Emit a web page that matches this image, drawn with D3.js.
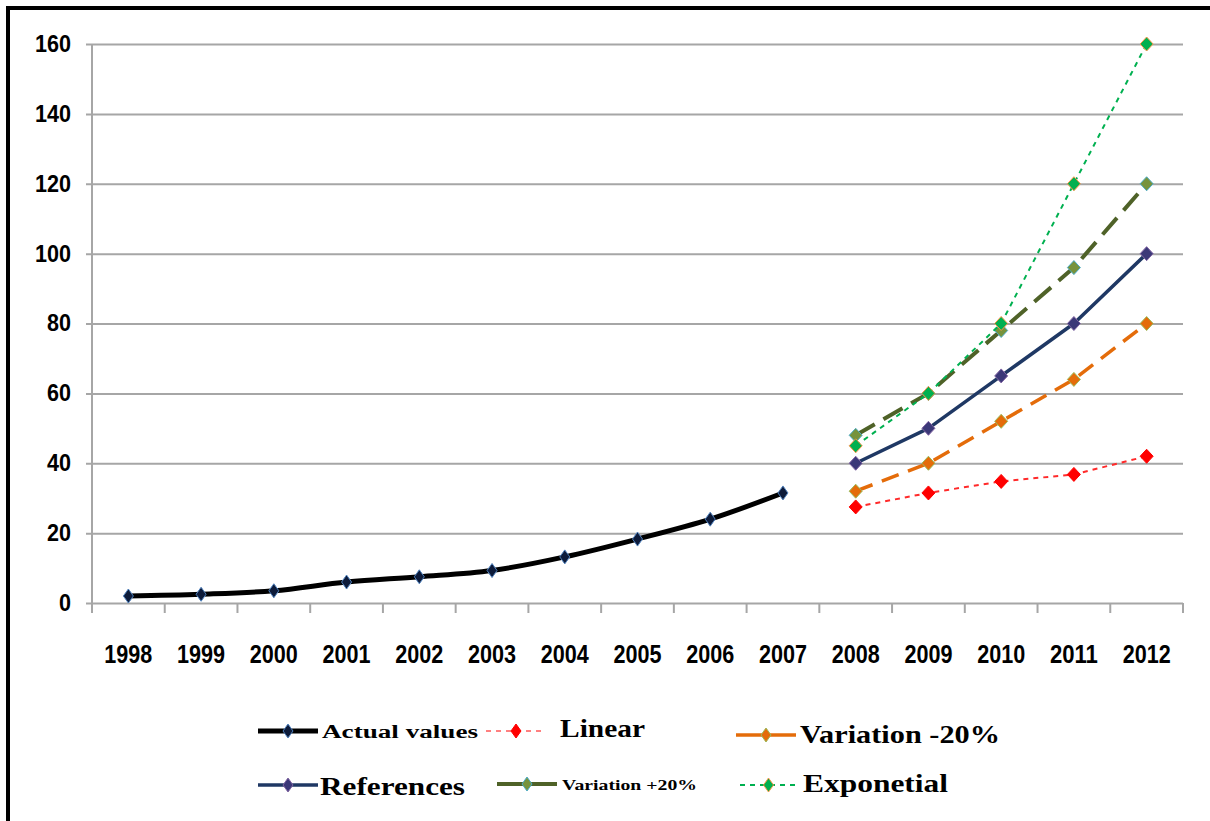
<!DOCTYPE html>
<html><head><meta charset="utf-8">
<script src="https://cdn.jsdelivr.net/npm/d3@7"></script>
<style>html,body{margin:0;padding:0;background:#fff;}svg{display:block;}</style>
</head><body>
<svg id="chart" width="1210" height="821"></svg>
<script>
const years = ["1998","1999","2000","2001","2002","2003","2004","2005","2006","2007","2008","2009","2010","2011","2012"];
const yTicks = [0,20,40,60,80,100,120,140,160];
const actualValues = [2,2.5,3.5,6,7.5,9.3,13.2,18.3,24,31.5,null,null,null,null,null];
const linearValues = [null,null,null,null,null,null,null,null,null,null,27.5,31.5,34.8,36.8,42];
const varMinus20 = [null,null,null,null,null,null,null,null,null,null,32,40,52,64,80];
const references = [null,null,null,null,null,null,null,null,null,null,40,50,65,80,100];
const varPlus20 = [null,null,null,null,null,null,null,null,null,null,48,60,78,96,120];
const exponential = [null,null,null,null,null,null,null,null,null,null,45,60,80,120,160];

const seriesNames = ["Actual values","Linear","Variation -20%","References","Variation +20%","Exponetial"];
const seriesData = [actualValues, linearValues, varMinus20, references, varPlus20, exponential];

const styles = [
  {stroke:"#000000", width:5, dash:null, ldash:null, fill:"#0d1b3a", mstroke:"#4f81bd", curve:d3.curveMonotoneX, mw:10},
  {stroke:"#ff2a2a", width:2, dash:"5,5", ldash:"5,5", fill:"#ff0000", mstroke:"#ff0000", curve:d3.curveLinear, mw:13},
  {stroke:"#e46c0a", width:3.5, dash:"18,10", ldash:null, fill:"#e46c0a", mstroke:"#9bbb59", curve:d3.curveLinear, mw:13},
  {stroke:"#1f3864", width:3.5, dash:null, ldash:null, fill:"#3b3878", mstroke:"#8064a2", curve:d3.curveLinear, mw:13},
  {stroke:"#4f6228", width:4, dash:"22,10", ldash:null, fill:"#77933c", mstroke:"#4bacc6", curve:d3.curveLinear, mw:13},
  {stroke:"#00b050", width:2, dash:"5,5", ldash:"5,5", fill:"#00b050", mstroke:"#f79646", curve:d3.curveLinear, mw:13}
];
const legendPos = [
  {x1:258,x2:318,y:731,tx:322,tw:156,ty:738,fs:18},
  {x1:486,x2:546,y:731,tx:560,tw:85,ty:737,fs:25},
  {x1:736,x2:796,y:735,tx:800,tw:200,ty:743,fs:25},
  {x1:258,x2:318,y:785,tx:320,tw:145,ty:795,fs:25},
  {x1:497,x2:557,y:784,tx:562,tw:135,ty:790,fs:15},
  {x1:740,x2:797,y:785,tx:803,tw:145,ty:792,fs:25}
];

const svg = d3.select("#chart");
const L = 92, R = 1183, T = 44, B = 603;
const x = d3.scaleBand().domain(years).range([L, R]);
const y = d3.scaleLinear().domain([0,160]).range([B, T]);
const cx = d => x(d) + x.bandwidth()/2;
const tickFont = "'Liberation Sans','Arial',sans-serif";

// frame
svg.append("rect").attr("x",6).attr("y",6).attr("width",1204).attr("height",4).attr("fill","#000");
svg.append("rect").attr("x",6).attr("y",6).attr("width",4).attr("height",815).attr("fill","#000");

// y axis + grid
const gy = svg.append("g").attr("transform",`translate(${L},0)`)
  .call(d3.axisLeft(y).tickValues(yTicks).tickSize(0).tickPadding(21));
gy.select(".domain").remove();
gy.selectAll(".tick line").attr("x1",-6).attr("x2",R-L).attr("stroke","#a6a6a6").attr("stroke-width",2);
gy.selectAll(".tick text").attr("font-family",tickFont)
  .attr("font-weight","bold").attr("font-size",23).attr("fill","#000")
  .attr("textLength", d => String(d).length*12).attr("lengthAdjust","spacingAndGlyphs");

// vertical axis line
svg.append("line").attr("x1",L).attr("x2",L).attr("y1",T).attr("y2",B+10).attr("stroke","#a6a6a6").attr("stroke-width",2);

// x axis
const gx = svg.append("g").attr("transform",`translate(0,${B})`)
  .call(d3.axisBottom(x).tickSize(0).tickPadding(0));
gx.select(".domain").remove();
gx.selectAll(".tick text").attr("y",60).attr("dy",0)
  .attr("font-family",tickFont)
  .attr("font-weight","bold").attr("font-size",26).attr("fill","#000")
  .attr("textLength",48).attr("lengthAdjust","spacingAndGlyphs");
svg.append("g").selectAll("line").data(years.concat(["end"])).join("line")
  .attr("x1",d => d==="end" ? R : x(d)).attr("x2",d => d==="end" ? R : x(d))
  .attr("y1",B).attr("y2",B+10).attr("stroke","#a6a6a6").attr("stroke-width",2);

const diamond = (w,h) => `M0,${-h/2}L${w/2},0L0,${h/2}L${-w/2},0Z`;

// series
seriesData.forEach((vals, i) => {
  const st = styles[i];
  const pts = years.map((yr,j) => ({yr, v: vals[j]})).filter(p => p.v !== null);
  const line = d3.line().x(p => cx(p.yr)).y(p => y(p.v)).curve(st.curve);
  svg.append("path").datum(pts).attr("d", line).attr("fill","none")
    .attr("stroke", st.stroke).attr("stroke-width", st.width)
    .attr("stroke-dasharray", st.dash).attr("stroke-linejoin","round");
  svg.append("g").selectAll("path").data(pts).join("path")
    .attr("transform", p => `translate(${cx(p.yr)},${y(p.v)})`)
    .attr("d", diamond(st.mw,14)).attr("fill", st.fill).attr("stroke", st.mstroke).attr("stroke-width",1);
});

// legend
seriesNames.forEach((name, i) => {
  const st = styles[i], lp = legendPos[i];
  const g = svg.append("g");
  g.append("line").attr("x1",lp.x1).attr("x2",lp.x2).attr("y1",lp.y).attr("y2",lp.y)
    .attr("stroke", i===1 ? "#ff8080" : st.stroke).attr("stroke-width", st.width)
    .attr("stroke-dasharray", st.ldash);
  g.append("path").attr("transform",`translate(${(lp.x1+lp.x2)/2},${lp.y})`)
    .attr("d", diamond(10,14)).attr("fill", st.fill).attr("stroke", st.mstroke).attr("stroke-width",1);
  g.append("text").attr("x",lp.tx).attr("y",lp.ty).text(name)
    .attr("font-family","'Liberation Serif','Times New Roman',serif")
    .attr("font-size",lp.fs).attr("font-weight","bold").attr("fill","#000")
    .attr("textLength",lp.tw).attr("lengthAdjust","spacingAndGlyphs");
});
</script>
</body></html>
